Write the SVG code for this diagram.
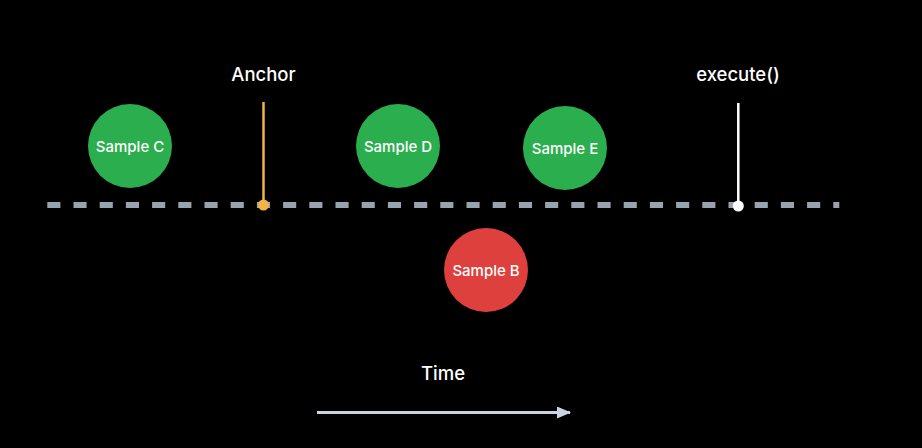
<svg xmlns="http://www.w3.org/2000/svg" width="922" height="448" viewBox="0 0 922 448">
<style>
.lbl{font-family:Inter,"Liberation Sans",Arial,sans-serif;fill:#fff;text-anchor:middle;font-weight:500}
.big{font-size:18.5px}
.small{font-size:15px}
.green{fill:#2BAE4E}
.red{fill:#DE403E}
</style>
<defs>
<marker id="ah" markerWidth="14" markerHeight="12" refX="13" refY="6" orient="auto" markerUnits="userSpaceOnUse">
<path d="M0,0 L14,6 L0,12 Z" fill="#C9D5E4"/>
</marker>
</defs>
<rect width="922" height="448" fill="#000"/>
<g id="connectors">
<line id="timeline" x1="47.3" y1="205" x2="839.3" y2="205" stroke="#99A3AE" stroke-width="6" stroke-dasharray="13.1 13.1"/>
<line id="anchor-line" x1="263.5" y1="102" x2="263.5" y2="205" stroke="#F2B445" stroke-width="2.5"/>
<circle cx="263.5" cy="205" r="5.5" fill="#F2B445"/>
<line id="execute-line" x1="738.3" y1="103" x2="738.3" y2="205" stroke="#fff" stroke-width="2.5"/>
<circle cx="738.3" cy="206" r="5.5" fill="#fff"/>
<line id="time-arrow" x1="317" y1="412.5" x2="570" y2="412.5" stroke="#C9D5E4" stroke-width="3" marker-end="url(#ah)"/>
</g>
<g id="anchor-label"><text class="lbl big" x="263.5" y="81">Anchor</text></g>
<g id="execute-label"><text class="lbl big" x="738" y="81">execute()</text></g>
<g id="time-label"><text class="lbl big" x="443" y="380">Time</text></g>
<g id="sample-c"><circle class="green" cx="130" cy="146" r="42"/><text class="lbl small" x="130" y="151.5">Sample C</text></g>
<g id="sample-d"><circle class="green" cx="398" cy="146" r="42"/><text class="lbl small" x="398" y="151.5">Sample D</text></g>
<g id="sample-e"><circle class="green" cx="565" cy="148" r="42"/><text class="lbl small" x="565" y="153.5">Sample E</text></g>
<g id="sample-b"><circle class="red" cx="486" cy="270" r="42"/><text class="lbl small" x="486" y="275.5">Sample B</text></g>
</svg>
